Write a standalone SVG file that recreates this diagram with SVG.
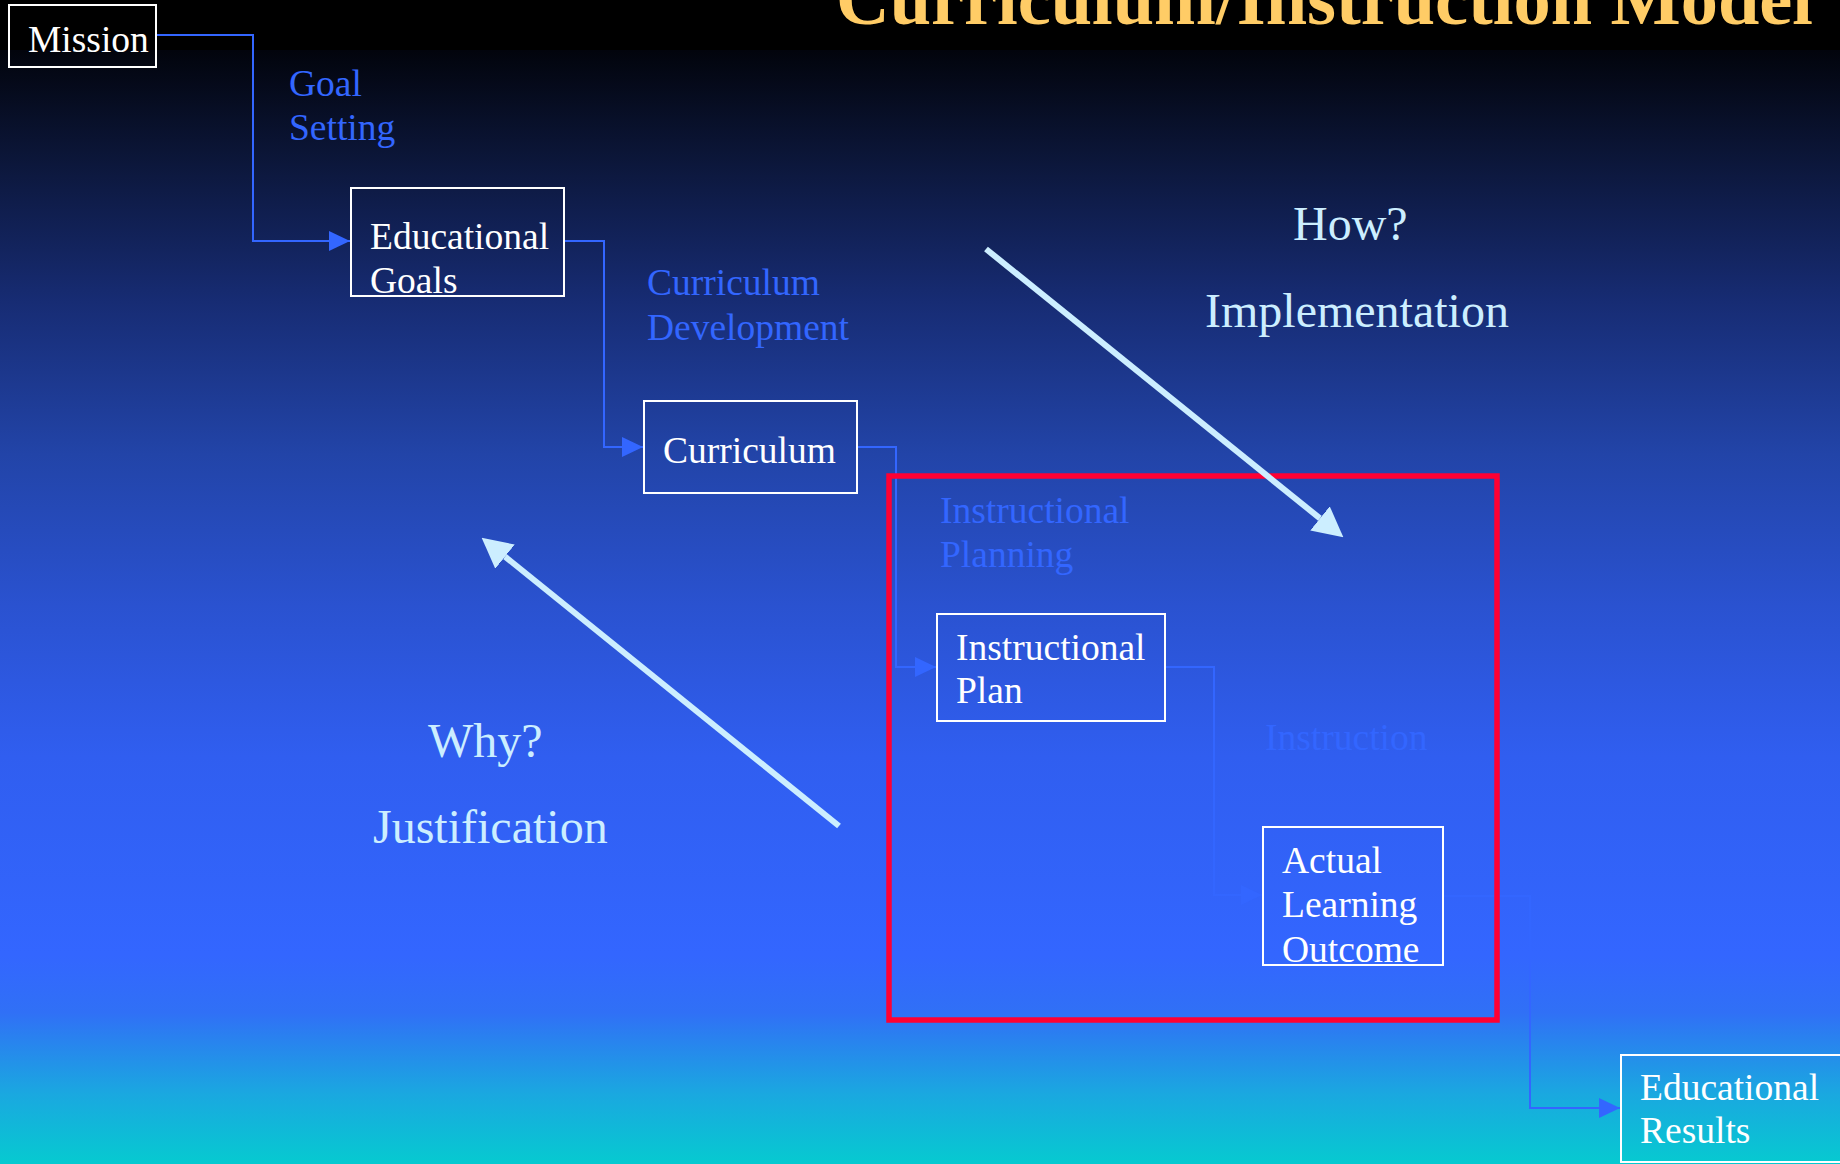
<svg xmlns="http://www.w3.org/2000/svg" width="1840" height="1164" viewBox="0 0 1840 1164">
  <defs>
    <linearGradient id="bg" x1="0" y1="0" x2="0" y2="1164" gradientUnits="userSpaceOnUse">
      <stop offset="0" stop-color="#000000"/>
      <stop offset="0.043" stop-color="#02040c"/>
      <stop offset="0.13" stop-color="#0b1536"/>
      <stop offset="0.26" stop-color="#172c74"/>
      <stop offset="0.39" stop-color="#2244a8"/>
      <stop offset="0.52" stop-color="#2a52d0"/>
      <stop offset="0.65" stop-color="#305ef0"/>
      <stop offset="0.82" stop-color="#3366ff"/>
      <stop offset="0.87" stop-color="#3070f6"/>
      <stop offset="0.94" stop-color="#1aa8e0"/>
      <stop offset="1" stop-color="#06cad0"/>
    </linearGradient>
    <marker id="conArrow" viewBox="0 0 21 20" markerWidth="21" markerHeight="20" refX="21" refY="10" orient="auto" markerUnits="userSpaceOnUse">
      <path d="M0,0 L21,10 L0,20 z" fill="#3366ff"/>
    </marker>
    <marker id="bigArrow" viewBox="0 0 30 31" markerWidth="30" markerHeight="31" refX="0" refY="15.5" orient="auto" markerUnits="userSpaceOnUse">
      <path d="M0,0 L30,15.5 L0,31 z" fill="#cceeff"/>
    </marker>
    <style>
      .box { fill: none; stroke: #ffffff; stroke-width: 2; }
      .ntext { font-family: "Liberation Serif", "Times New Roman", serif; font-size: 37.5px; fill: #ffffff; }
      .ltext { font-family: "Liberation Serif", "Times New Roman", serif; font-size: 37.5px; fill: #3366ff; }
      .big { font-family: "Liberation Serif", "Times New Roman", serif; font-size: 48px; fill: #cceeff; }
      .con { fill: none; stroke: #3366ff; stroke-width: 2; }
      .bigline { stroke: #cceeff; stroke-width: 6; fill: none; }
    </style>
  </defs>

  <rect x="0" y="0" width="1840" height="1164" fill="url(#bg)"/>
  <rect x="0" y="0" width="1840" height="50" fill="#000000"/>

  <text x="836" y="24" font-family="'Liberation Serif', 'Times New Roman', serif" font-size="74" font-weight="bold" fill="#ffcc66" textLength="977" lengthAdjust="spacingAndGlyphs">Curriculum/Instruction Model</text>

  <g id="connectors">
    <path class="con" d="M156,35 H253 V241 H350" marker-end="url(#conArrow)"/>
    <path class="con" d="M564,241 H604 V447 H643" marker-end="url(#conArrow)"/>
    <path class="con" d="M857,447 H896 V667 H936" marker-end="url(#conArrow)"/>
    <path class="con" d="M1165,667 H1214 V895 H1262" marker-end="url(#conArrow)"/>
    <path class="con" d="M1443,896 H1530 V1108 H1620" marker-end="url(#conArrow)"/>
  </g>

  <g id="labels">
    <text class="ltext" x="289" y="96">Goal</text>
    <text class="ltext" x="289" y="140">Setting</text>
    <text class="ltext" x="647" y="295">Curriculum</text>
    <text class="ltext" x="647" y="340">Development</text>
    <text class="ltext" x="940" y="523">Instructional</text>
    <text class="ltext" x="940" y="567">Planning</text>
    <text class="ltext" x="1265" y="750">Instruction</text>
  </g>

  <g id="mission">
    <rect class="box" x="9" y="5" width="147" height="62"/>
    <text class="ntext" x="28" y="52">Mission</text>
  </g>
  <g id="educational-goals">
    <rect class="box" x="351" y="188" width="213" height="108"/>
    <text class="ntext" x="370" y="249">Educational</text>
    <text class="ntext" x="370" y="293">Goals</text>
  </g>
  <g id="curriculum">
    <rect class="box" x="644" y="401" width="213" height="92"/>
    <text class="ntext" x="663" y="463">Curriculum</text>
  </g>
  <g id="instructional-plan">
    <rect class="box" x="937" y="614" width="228" height="107"/>
    <text class="ntext" x="956" y="660">Instructional</text>
    <text class="ntext" x="956" y="703">Plan</text>
  </g>
  <g id="actual-learning-outcome">
    <rect class="box" x="1263" y="827" width="180" height="138"/>
    <text class="ntext" x="1282" y="873">Actual</text>
    <text class="ntext" x="1282" y="917">Learning</text>
    <text class="ntext" x="1282" y="962">Outcome</text>
  </g>
  <g id="educational-results">
    <rect class="box" x="1621" y="1055" width="240" height="107"/>
    <text class="ntext" x="1640" y="1100">Educational</text>
    <text class="ntext" x="1640" y="1143">Results</text>
  </g>

  <g id="instruction-focus">
    <rect x="889" y="476" width="608" height="544" fill="none" stroke="#ff0033" stroke-width="5.5"/>
  </g>

  <g id="how">
    <line class="bigline" x1="986" y1="249" x2="1320" y2="518.4" marker-end="url(#bigArrow)"/>
    <text class="big" x="1293" y="240">How?</text>
    <text class="big" x="1205" y="327">Implementation</text>
  </g>
  <g id="why">
    <line class="bigline" x1="839" y1="826" x2="505" y2="556.6" marker-end="url(#bigArrow)"/>
    <text class="big" x="428" y="757">Why?</text>
    <text class="big" x="373" y="843">Justification</text>
  </g>
</svg>
